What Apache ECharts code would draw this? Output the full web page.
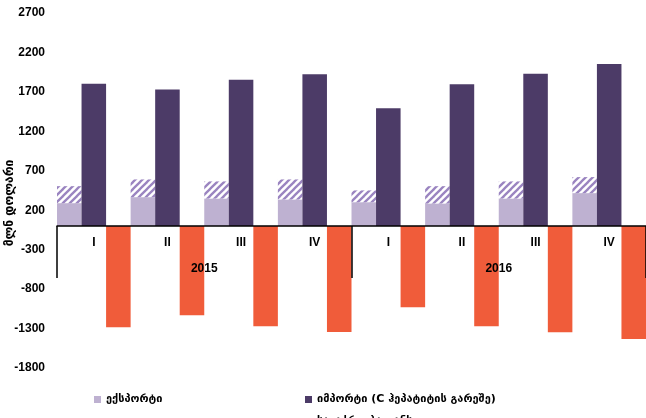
<!DOCTYPE html>
<html>
<head>
<meta charset="utf-8">
<script src="https://cdn.jsdelivr.net/npm/echarts@6/dist/echarts.min.js"></script>
<style>
html,body{margin:0;padding:0;background:#fff;}
#main{width:646px;height:418px;}
</style>
</head>
<body>
<div id="main"></div>
<script>
const quarters = ['I','II','III','IV','I','II','III','IV'];
const years = ['2015','2016'];
const yTicks = { min: -1800, max: 2700, interval: 500 };
const exportVals = [290, 366, 349, 337, 302, 286, 349, 417];
const hatchVals = [215, 224, 216, 253, 149, 219, 216, 203];
const importVals = [1802, 1730, 1853, 1925, 1494, 1798, 1929, 2052];
const balanceVals = [-1284, -1132, -1271, -1344, -1030, -1271, -1347, -1433];
const names = {
  exp: 'ექსპორტი',
  hatch: 'ექსპორტი (დამატებით)',
  imp: 'იმპორტი (C ჰეპატიტის გარეშე)',
  bal: 'სავაჭრო ბალანსი'
};
const yName = 'მლნ დოლარი';

function makePattern() {
  const c = document.createElement('canvas');
  const s = 7;
  c.width = s; c.height = s;
  const ctx = c.getContext('2d');
  ctx.fillStyle = '#ffffff';
  ctx.fillRect(0, 0, s, s);
  ctx.strokeStyle = '#9A84C0';
  ctx.lineWidth = 2.3;
  for (const k of [-s, 0, s]) {
    ctx.beginPath();
    ctx.moveTo(k - 1, s + 1);
    ctx.lineTo(k + s + 1, -1);
    ctx.stroke();
  }
  return c;
}

const gridTop = 13, gridBottom = 50, H = 418;
const plotH = H - gridTop - gridBottom;
const zeroOffset = -plotH * (0 - yTicks.min) / (yTicks.max - yTicks.min);

const chart = echarts.init(document.getElementById('main'), null, {renderer: 'canvas'});
const numFont = 'Liberation Sans';
const geoFont = 'DejaVu Sans';
const legText = { fontFamily: geoFont, fontWeight: 'bold', fontSize: 11, color: '#000' };
chart.setOption({
  animation: false,
  backgroundColor: '#ffffff',
  grid: { left: 57, right: 0, top: gridTop, bottom: gridBottom, containLabel: false },
  legend: [
    { data: [names.exp], left: 89, top: 389, itemWidth: 7, itemHeight: 7, itemGap: 4,
      icon: 'rect', textStyle: legText, selectedMode: false },
    { data: [names.imp], left: 300, top: 389, itemWidth: 7, itemHeight: 7,
      icon: 'rect', textStyle: legText, selectedMode: false },
    { data: [names.bal], left: 300, top: 411, itemWidth: 7, itemHeight: 7,
      icon: 'rect', textStyle: legText, selectedMode: false }
  ],
  graphic: [{
    type: 'text', x: 10, y: 203, rotation: Math.PI / 2,
    style: { text: yName, textAlign: 'center', textVerticalAlign: 'middle',
      font: 'bold 12px "DejaVu Sans"', fill: '#000' }
  }],
  xAxis: [
    { type: 'category', data: quarters, position: 'bottom', offset: zeroOffset, z: 10,
      axisLine: { onZero: false, lineStyle: { color: '#000', width: 1.5 } },
      axisTick: { show: false },
      axisLabel: { margin: 11, color: '#000', fontFamily: numFont, fontWeight: 'bold', fontSize: 12 } },
    { type: 'category', data: years, position: 'bottom', offset: zeroOffset, z: 10,
      axisLine: { show: false, onZero: false },
      axisTick: { show: true, length: 52, interval: 0, lineStyle: { color: '#000', width: 1.5 } },
      axisLabel: { margin: 37, color: '#000', fontFamily: numFont, fontWeight: 'bold', fontSize: 12 } }
  ],
  yAxis: {
    type: 'value', min: yTicks.min, max: yTicks.max, interval: yTicks.interval,
    axisLine: { show: false }, axisTick: { show: false }, splitLine: { show: false },
    axisLabel: { color: '#000', fontFamily: numFont, fontWeight: 'bold', fontSize: 12, margin: 12,
      formatter: function (v) { return String(v); } }
  },
  series: [
    { name: names.exp, type: 'bar', stack: 'e', data: exportVals, xAxisIndex: 0,
      barGap: '0%', barCategoryGap: '0%', itemStyle: { color: '#BEB1D1' } },
    { name: names.hatch, type: 'bar', stack: 'e', data: hatchVals, xAxisIndex: 0,
      barGap: '0%', barCategoryGap: '0%', itemStyle: { color: { image: makePattern(), repeat: 'repeat' } } },
    { name: names.imp, type: 'bar', data: importVals, xAxisIndex: 0,
      barGap: '0%', barCategoryGap: '0%', itemStyle: { color: '#4C3B67' } },
    { name: names.bal, type: 'bar', data: balanceVals, xAxisIndex: 0,
      barGap: '0%', barCategoryGap: '0%', itemStyle: { color: '#F05C3A' } }
  ]
});
</script>
</body>
</html>
